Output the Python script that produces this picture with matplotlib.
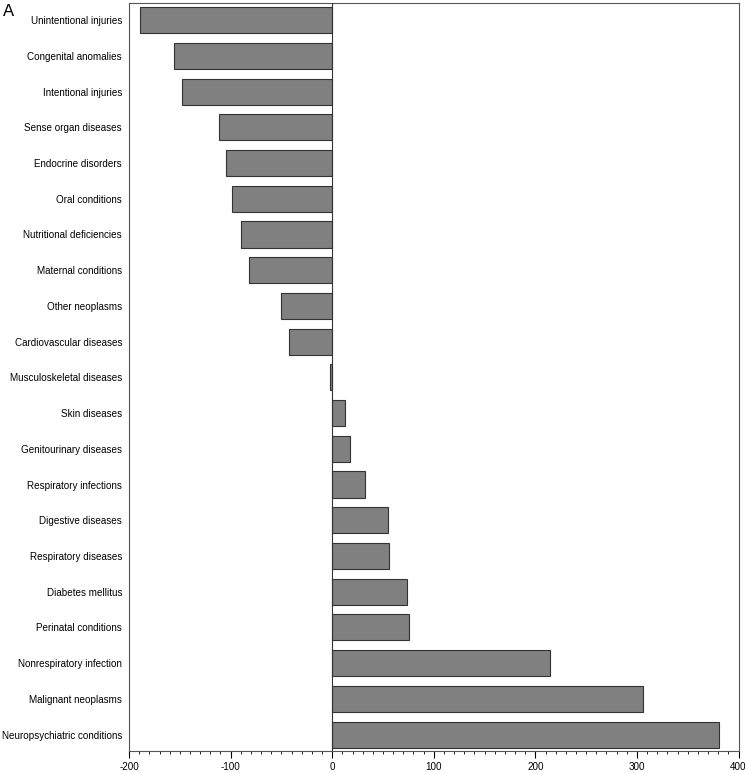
import numpy as np
import matplotlib.pyplot as plt
from matplotlib.ticker import MultipleLocator

plt.rcParams['font.family'] = ['Liberation Sans', 'DejaVu Sans']
plt.rcParams['axes.unicode_minus'] = False

categories = ["Unintentional injuries", "Congenital anomalies", "Intentional injuries",
              "Sense organ diseases", "Endocrine disorders", "Oral conditions",
              "Nutritional deficiencies", "Maternal conditions", "Other neoplasms",
              "Cardiovascular diseases", "Musculoskeletal diseases", "Skin diseases",
              "Genitourinary diseases", "Respiratory infections", "Digestive diseases",
              "Respiratory diseases", "Diabetes mellitus", "Perinatal conditions",
              "Nonrespiratory infection", "Malignant neoplasms", "Neuropsychiatric conditions"]
values = [-189, -156, -147.5, -111, -105, -99, -89.5, -81.6, -50, -42.3, -2.5,
          13, 17.7, 32.5, 55, 56, 74, 76, 214, 305.6, 380.6]

fig = plt.figure(figsize=(7.46, 7.73), dpi=100)
ax = fig.add_axes([0.1730, 0.0285, 0.817, 0.9676])

y = np.arange(len(categories))
ax.barh(y, values, height=0.73, color="#808080", edgecolor="#333333", linewidth=0.8, zorder=2)
ax.axvline(0, color="#333333", linewidth=0.8, zorder=3)

ax.set_xlim(-200, 400)
ax.set_ylim(20.46, -0.48)
ax.set_yticks(y)
ax.set_yticklabels(categories, fontsize=7.1)
ax.tick_params(axis="y", length=0, pad=5)
ax.xaxis.set_major_locator(MultipleLocator(100))
ax.xaxis.set_minor_locator(MultipleLocator(10))
ax.tick_params(axis="x", which="major", length=5, width=0.8, labelsize=7.1, pad=3)
ax.tick_params(axis="x", which="minor", length=2.5, width=0.6)
for s in ax.spines.values():
    s.set_color("#555555")
    s.set_linewidth(0.8)

fig.text(0.004, 0.985, "A", fontsize=12, va="center", ha="left")

fig.savefig("out.png", dpi=100)
